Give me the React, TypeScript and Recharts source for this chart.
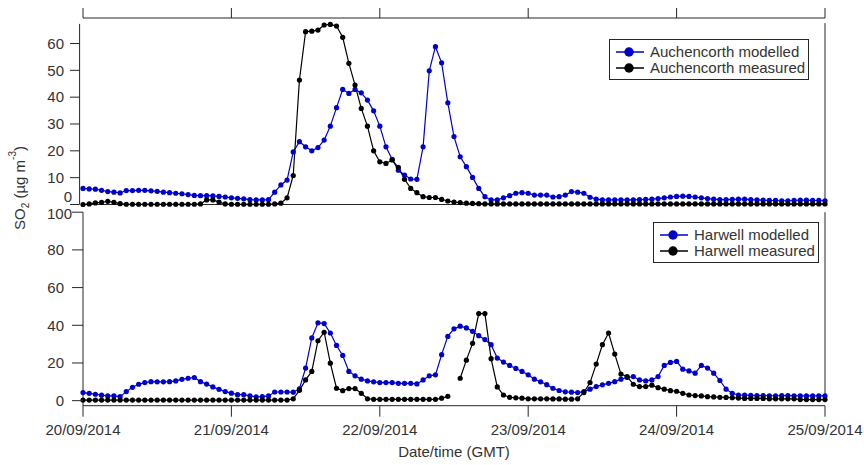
import React from "react";
import { LineChart, Line, XAxis, YAxis, ReferenceLine, Legend, Label } from "recharts";

const AXIS = "#262626";
const TEXT = "#333333";
const BLUE = "#0000cc";
const BLACK = "#000000";
const FONT = '"Liberation Sans", Arial, sans-serif';

// hourly samples, 20/09/2014 00:00 to 25/09/2014 00:00 (GMT)
const hours = Array.from({ length: 121 }, (_, i) => i);
const dayTicks = [0, 24, 48, 72, 96, 120];
const dayLabels = ["20/09/2014", "21/09/2014", "22/09/2014", "23/09/2014", "24/09/2014", "25/09/2014"];
const topTicks = [0, 10, 20, 30, 40, 50, 60];
const topRightTicks = [10, 20, 30, 40, 50, 60];
const bottomTicks = [0, 20, 40, 60, 80, 100];

const topSeriesNames = ["Auchencorth modelled", "Auchencorth measured"];
const bottomSeriesNames = ["Harwell modelled", "Harwell measured"];

// SO2 (ug m-3)
const auchencorthModelled = [
  6.0, 5.8, 5.7, 5.3, 4.8, 4.6, 4.3, 5.2, 5.2, 5.3,
  5.3, 5.1, 4.9, 4.6, 4.4, 4.2, 4.0, 3.7, 3.4, 3.3,
  3.3, 3.2, 3.0, 2.8, 2.5, 2.3, 2.1, 1.8, 1.7, 1.7,
  1.8, 4.6, 7.3, 9.1, 19.6, 23.4, 21.5, 20.0, 21.2, 24.0,
  29.2, 36.1, 42.9, 41.4, 42.9, 41.6, 38.9, 34.9, 29.2, 21.5,
  16.8, 12.8, 11.0, 9.5, 9.4, 21.5, 49.8, 58.8, 52.8, 37.9,
  25.3, 17.8, 14.1, 10.1, 6.0, 2.9, 1.7, 1.7, 2.5, 3.3,
  4.2, 4.4, 4.2, 3.5, 3.5, 3.5, 2.8, 2.9, 3.5, 4.8,
  4.6, 4.2, 2.7, 2.0, 1.7, 1.7, 1.7, 1.7, 1.7, 1.7,
  1.8, 1.9, 2.0, 2.2, 2.5, 2.8, 3.0, 3.1, 3.0, 2.8,
  2.5, 2.2, 2.0, 1.8, 1.8, 1.9, 2.0, 2.0, 1.8, 1.7,
  1.6, 1.5, 1.5, 1.4, 1.4, 1.5, 1.6, 1.6, 1.5, 1.5,
  1.4,
];

const auchencorthMeasured = [
  0.0, 0.2, 0.6, 0.8, 1.2, 0.8, 0.3, 0.1, 0.1, 0.1,
  0.1, 0.1, 0.1, 0.1, 0.1, 0.1, 0.1, 0.1, 0.1, 0.2,
  1.7, 1.7, 0.9, 0.2, 0.1, 0.1, 0.1, 0.1, 0.1, 0.1,
  0.1, 0.2, 0.5, 2.5, 10.8, 46.4, 64.4, 64.6, 65.0, 66.9,
  67.1, 66.5, 62.3, 52.6, 44.5, 35.8, 29.2, 20.0, 15.9, 15.3,
  16.6, 13.8, 9.4, 6.0, 4.4, 2.9, 2.6, 2.6, 1.9, 1.3,
  0.9, 0.7, 0.5, 0.4, 0.3, 0.2, 0.2, 0.2, 0.2, 0.2,
  0.2, 0.2, 0.2, 0.2, 0.2, 0.2, 0.2, 0.2, 0.2, 0.2,
  0.2, 0.2, 0.2, 0.2, 0.2, 0.2, 0.2, 0.2, 0.2, 0.2,
  0.2, 0.2, 0.2, 0.2, 0.2, 0.2, 0.2, 0.2, 0.2, 0.2,
  0.2, 0.2, 0.2, 0.2, 0.2, 0.2, 0.2, 0.2, 0.2, 0.2,
  0.2, 0.2, 0.2, 0.2, 0.2, 0.2, 0.2, 0.2, 0.2, 0.2,
  0.2,
];

const harwellModelled = [
  4.3, 3.9, 3.4, 2.9, 2.5, 2.5, 2.1, 4.8, 7.1, 8.7,
  9.6, 10.1, 10.0, 10.0, 10.1, 10.5, 11.3, 11.9, 12.3, 10.1,
  8.8, 7.3, 6.0, 4.8, 4.0, 3.2, 3.2, 2.5, 2.0, 2.1,
  2.5, 4.6, 4.6, 4.6, 4.5, 6.3, 17.3, 33.3, 41.3, 40.9,
  35.9, 29.3, 24.0, 15.5, 13.2, 11.4, 10.5, 10.0, 9.6, 9.6,
  9.6, 9.2, 9.2, 9.2, 8.9, 11.0, 13.2, 13.7, 24.4, 34.1,
  38.1, 39.5, 38.6, 36.8, 34.5, 32.4, 29.7, 22.6, 20.5, 18.7,
  17.1, 15.5, 13.7, 11.4, 10.0, 8.5, 6.6, 5.4, 4.7, 4.5,
  4.3, 4.8, 6.1, 7.5, 8.4, 9.2, 10.1, 11.4, 12.3, 12.8,
  11.0, 10.5, 11.0, 12.8, 18.7, 20.3, 20.8, 16.7, 15.8, 14.6,
  18.7, 17.3, 14.6, 10.7, 6.1, 3.9, 3.0, 2.9, 2.8, 2.7,
  2.7, 2.6, 2.6, 2.7, 2.7, 2.6, 2.5, 2.5, 2.5, 2.5,
  2.5,
];

// null = missing hour
const harwellMeasured = [
  0.3, 0.3, 0.3, 0.3, 0.3, 0.3, 0.3, 0.3, 0.3, 0.3,
  0.3, 0.3, 0.3, 0.3, 0.3, 0.3, 0.3, 0.3, 0.3, 0.3,
  0.3, 0.3, 0.3, 0.3, 0.3, 0.3, 0.3, 0.3, 0.3, 0.3,
  0.3, 0.3, 0.3, 0.3, 1.0, 5.5, 11.0, 15.5, 31.8, 36.3,
  19.9, 6.6, 5.3, 6.4, 6.4, 3.9, 1.0, 0.7, 0.7, 0.7,
  0.7, 0.7, 0.7, 0.7, 0.7, 0.7, 0.7, 0.7, 1.3, 2.3,
  null, 11.9, 21.5, 30.4, 46.2, 46.2, 22.3, 7.3, 3.0, 1.8,
  1.5, 1.3, 1.0, 1.0, 1.0, 1.0, 0.9, 0.9, 0.8, 0.8,
  1.0, 4.3, 9.6, 19.4, 29.7, 35.9, 24.7, 14.1, 12.8, 8.7,
  7.5, 7.5, 8.2, 6.9, 6.1, 5.3, 5.0, 3.9, 3.0, 2.7,
  2.5, 2.1, 2.0, 1.8, 1.7, 1.6, 1.4, 1.2, 1.2, 1.2,
  1.2, 1.0, 1.0, 1.0, 1.0, 1.0, 0.6, 0.6, 0.6, 0.6,
  0.6,
];

const topData = hours.map((h, i) => ({
  hour: h,
  modelled: auchencorthModelled[i],
  measured: auchencorthMeasured[i],
}));

const bottomData = hours.map((h, i) => ({
  hour: h,
  modelled: harwellModelled[i],
  measured: harwellMeasured[i],
}));

// tick marks only, no label
const NoLabel = () => <g />;

// left-axis tick: short outward dash plus right-aligned number
const LeftTick = (props: any) => {
  const { x, y, payload, dashFrom, dashTo, edgeValue, edgeDy } = props;
  const atEdge = payload.value === edgeValue;
  const textEnd = atEdge ? 11 : 19;
  return (
    <g>
      <line x1={x - dashFrom} x2={x - dashTo} y1={y} y2={y} stroke={AXIS} strokeWidth={1} />
      <text
        x={x - textEnd}
        y={y + (atEdge ? edgeDy : 0)}
        dy="0.35em"
        textAnchor="end"
        fill={TEXT}
        fontSize={15}
        fontFamily={FONT}
      >
        {payload.value}
      </text>
    </g>
  );
};

const LegendBox = (props: any) => {
  const { payload, boxWidth, order } = props;
  const items = [...(payload || [])].sort(
    (a: any, b: any) => order.indexOf(a.value) - order.indexOf(b.value)
  );
  return (
    <div
      style={{
        width: boxWidth,
        boxSizing: "border-box",
        border: `1px solid ${AXIS}`,
        background: "#fff",
        padding: "4px 0 3px 6px",
        fontFamily: FONT,
        fontSize: 15,
        lineHeight: "16px",
        color: TEXT,
      }}
    >
      {items.map((entry: any) => (
        <div key={entry.value} style={{ display: "flex", alignItems: "center", height: 16, whiteSpace: "nowrap" }}>
          <svg width={28} height={16} style={{ display: "block" }}>
            <line x1={0} x2={28} y1={8} y2={8} stroke={entry.color} strokeWidth={1.5} />
            <circle cx={13} cy={8} r={4.7} fill={entry.color} />
          </svg>
          <span style={{ marginLeft: 6 }}>{entry.value}</span>
        </div>
      ))}
    </div>
  );
};

const dotStyle = (color: string) => ({ r: 2.6, fill: color, stroke: color, strokeWidth: 0 });

export default function App() {
  return (
    <div style={{ position: "absolute", left: 0, top: 0, width: 864, height: 465, background: "#fff" }}>
      {/* Auchencorth panel */}
      <div style={{ position: "absolute", left: 0, top: 0 }}>
        <LineChart width={864} height={210} data={topData} margin={{ top: 8, right: 0, bottom: 5.5, left: 0 }}>
          <XAxis
            xAxisId="t"
            dataKey="hour"
            type="number"
            orientation="top"
            domain={[0, 120]}
            ticks={dayTicks}
            interval={0}
            tick={NoLabel}
            tickSize={10}
            height={10}
            stroke={AXIS}
          />
          <YAxis
            yAxisId="l"
            type="number"
            domain={[0, 69.5]}
            ticks={topTicks}
            width={83}
            axisLine={false}
            tickLine={false}
            tickSize={0}
            tickMargin={0}
            interval={0}
            tick={(p: any) => <LeftTick {...p} dashFrom={13} dashTo={3.5} edgeValue={0} edgeDy={-8} />}
          />
          <YAxis
            yAxisId="r"
            orientation="right"
            type="number"
            domain={[0, 69.5]}
            ticks={topRightTicks}
            interval={0}
            width={39}
            axisLine={false}
            tick={NoLabel}
            tickSize={12}
            stroke={AXIS}
          />
          <ReferenceLine xAxisId="t" yAxisId="l" y={0} stroke={AXIS} />
          <ReferenceLine
            xAxisId="t"
            yAxisId="l"
            ifOverflow="visible"
            segment={[{ x: -0.55, y: 0 }, { x: -0.55, y: 67.3 }]}
            stroke={AXIS}
          />
          <ReferenceLine
            xAxisId="t"
            yAxisId="l"
            segment={[{ x: 120, y: 0 }, { x: 120, y: 67.6 }]}
            stroke={AXIS}
          />
          <Legend
            layout="vertical"
            align="center"
            verticalAlign="middle"
            wrapperStyle={{ position: "absolute", left: 609, top: 39, width: 200 }}
            content={(p: any) => <LegendBox {...p} boxWidth={200} order={topSeriesNames} />}
          />
          <Line
            xAxisId="t"
            yAxisId="l"
            name={topSeriesNames[0]}
            dataKey="modelled"
            stroke={BLUE}
            strokeWidth={1.2}
            dot={dotStyle(BLUE)}
            activeDot={false}
            isAnimationActive={false}
          />
          <Line
            xAxisId="t"
            yAxisId="l"
            name={topSeriesNames[1]}
            dataKey="measured"
            stroke={BLACK}
            strokeWidth={1.2}
            dot={dotStyle(BLACK)}
            activeDot={false}
            isAnimationActive={false}
          />
        </LineChart>
      </div>

      {/* Harwell panel */}
      <div style={{ position: "absolute", left: 0, top: 0 }}>
        <LineChart width={864} height={465} data={bottomData} margin={{ top: 212.2, right: 0, bottom: 0, left: 0 }}>
          <XAxis
            dataKey="hour"
            type="number"
            domain={[0, 120]}
            ticks={dayTicks}
            interval={0}
            tickFormatter={(v: number) => dayLabels[dayTicks.indexOf(v)]}
            tickSize={11}
            tickMargin={8}
            height={59.3}
            stroke={AXIS}
            tick={{ fill: TEXT, fontSize: 15, fontFamily: FONT }}
          >
            <Label
              value="Date/time (GMT)"
              position="insideBottom"
              offset={8}
              fill={TEXT}
              fontSize={15}
              fontFamily={FONT}
            />
          </XAxis>
          <YAxis
            yAxisId="l"
            type="number"
            domain={[-2.67, 100]}
            ticks={bottomTicks}
            width={83}
            stroke={AXIS}
            tickLine={false}
            tickSize={0}
            tickMargin={0}
            interval={0}
            tick={(p: any) => <LeftTick {...p} dashFrom={11} dashTo={0} edgeValue={100} edgeDy={2} />}
          />
          <YAxis
            yAxisId="r"
            orientation="right"
            type="number"
            domain={[-2.67, 100]}
            ticks={bottomTicks}
            interval={0}
            width={39}
            axisLine={false}
            tick={NoLabel}
            tickSize={12}
            stroke={AXIS}
          />
          <ReferenceLine
            yAxisId="l"
            segment={[{ x: 120, y: 0 }, { x: 120, y: 100 }]}
            stroke={AXIS}
          />
          <Legend
            layout="vertical"
            align="center"
            verticalAlign="middle"
            wrapperStyle={{ position: "absolute", left: 653, top: 222, width: 166 }}
            content={(p: any) => <LegendBox {...p} boxWidth={166} order={bottomSeriesNames} />}
          />
          <Line
            yAxisId="l"
            name={bottomSeriesNames[0]}
            dataKey="modelled"
            stroke={BLUE}
            strokeWidth={1.2}
            dot={dotStyle(BLUE)}
            activeDot={false}
            isAnimationActive={false}
          />
          <Line
            yAxisId="l"
            name={bottomSeriesNames[1]}
            dataKey="measured"
            stroke={BLACK}
            strokeWidth={1.2}
            dot={dotStyle(BLACK)}
            activeDot={false}
            isAnimationActive={false}
          />
        </LineChart>
      </div>

      {/* shared y-axis title */}
      <svg width={40} height={465} style={{ position: "absolute", left: 0, top: 0 }}>
        <text
          transform="translate(25,188) rotate(-90)"
          textAnchor="middle"
          fontSize={15}
          fontFamily={FONT}
          fill={TEXT}
        >
          SO
          <tspan fontSize={10} dy={4}>2</tspan>
          <tspan dy={-4}> (µg m</tspan>
          <tspan fontSize={10} dy={-9}>-3</tspan>
          <tspan dy={9}>)</tspan>
        </text>
      </svg>
    </div>
  );
}
